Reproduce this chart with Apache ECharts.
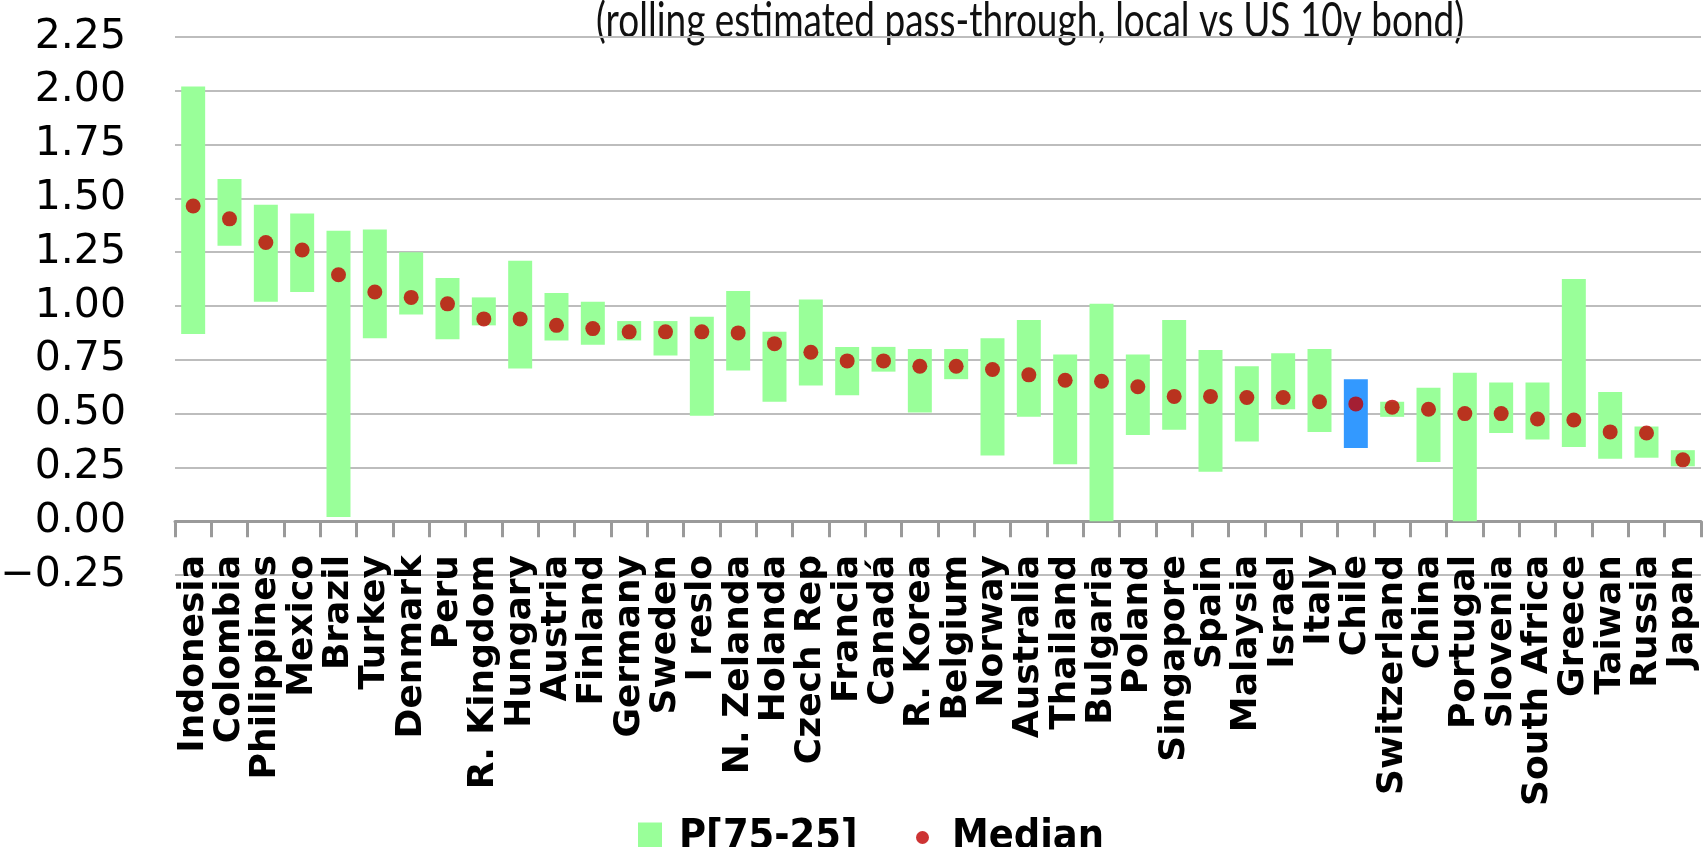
<!DOCTYPE html>
<html>
<head>
<meta charset="utf-8">
<script src="https://cdn.jsdelivr.net/npm/echarts@6/dist/echarts.min.js"></script>
<style>
  html, body { margin: 0; padding: 0; background: #fff; }
  #chart { width: 1704px; height: 847px; }
</style>
</head>
<body>
<div id="chart"></div>
<script>
// Countries, ordered by median pass-through
const countries = ['Indonesia','Colombia','Philippines','Mexico','Brazil','Turkey','Denmark','Peru','R. Kingdom','Hungary',
  'Austria','Finland','Germany','Sweden','I reslo','N. Zelanda','Holanda','Czech Rep','Francia','Canadá',
  'R. Korea','Belgium','Norway','Australia','Thailand','Bulgaria','Poland','Singapore','Spain','Malaysia',
  'Israel','Italy','Chile','Switzerland','China','Portugal','Slovenia','South Africa','Greece','Taiwan',
  'Russia','Japan'];

// 75th percentile of the rolling estimate
const p75 = [2.02,1.59,1.47,1.43,1.35,1.355,1.25,1.13,1.04,1.21,
  1.06,1.02,0.93,0.93,0.95,1.07,0.88,1.03,0.81,0.81,
  0.80,0.80,0.85,0.935,0.775,1.01,0.775,0.935,0.795,0.72,
  0.78,0.80,0.66,0.555,0.62,0.69,0.645,0.645,1.125,0.60,
  0.44,0.33];

// 25th percentile of the rolling estimate
const p25 = [0.87,1.28,1.02,1.065,0.02,0.85,0.96,0.845,0.91,0.71,
  0.84,0.82,0.84,0.77,0.49,0.70,0.555,0.63,0.585,0.695,
  0.505,0.66,0.305,0.485,0.265,0.0,0.40,0.425,0.23,0.37,
  0.52,0.415,0.34,0.485,0.275,0.0,0.41,0.38,0.345,0.29,
  0.295,0.255];

// Median of the rolling estimate
const median = [1.465,1.405,1.295,1.26,1.145,1.065,1.04,1.01,0.94,0.94,
  0.91,0.895,0.88,0.88,0.88,0.875,0.825,0.785,0.745,0.745,
  0.72,0.72,0.705,0.68,0.655,0.65,0.625,0.58,0.58,0.575,
  0.575,0.555,0.545,0.53,0.52,0.50,0.50,0.475,0.47,0.415,
  0.41,0.285];

const subtitle = '(rolling estimated pass-through, local vs US 10y bond)';
const highlighted = 'Chile';
const yTicks = { min: -0.25, max: 2.25, step: 0.25 };

const GREEN = '#99ff99';
const BLUE = '#3399ff';
const RED = '#c00000';

// Floating bars: an invisible base up to P25, then the P25–P75 span on top
const baseData = p25.slice();
const spanData = p75.map((hi, i) => ({
  value: +(hi - p25[i]).toFixed(4),
  itemStyle: { color: countries[i] === highlighted ? BLUE : GREEN }
}));

const chart = echarts.init(document.getElementById('chart'), null, { renderer: 'canvas' });

const legendText = { fontFamily: 'DejaVu Sans Condensed', fontWeight: 'bold', fontSize: 41, color: '#000' };

chart.setOption({
  animation: false,
  backgroundColor: '#ffffff',
  graphic: [
    {
      // narrow, tall subtitle line running off the top edge
      type: 'text',
      x: 596, y: 46,
      scaleX: 0.77, scaleY: 1,
      style: {
        text: subtitle,
        fontFamily: 'Lato', fontSize: 48, fontWeight: 'normal',
        fill: '#111', verticalAlign: 'bottom', align: 'left'
      },
      silent: true
    }
  ],
  legend: [
    {
      data: ['P[75-25]'],
      left: 633, top: 812,
      icon: 'rect', itemWidth: 24, itemHeight: 30,
      textStyle: Object.assign({ padding: [0, 0, 0, 12] }, legendText),
      selectedMode: false
    },
    {
      data: ['Median'],
      left: 911, top: 812,
      icon: 'circle', itemWidth: 13, itemHeight: 13,
      textStyle: Object.assign({ padding: [0, 0, 0, 18] }, legendText),
      selectedMode: false
    }
  ],
  grid: { left: 175, right: 3, top: 37, bottom: 272, containLabel: false, outerBoundsMode: 'none' },
  xAxis: {
    type: 'category',
    data: countries,
    boundaryGap: true,
    axisLine: { onZero: true, lineStyle: { color: '#9a9a9a', width: 3 } },
    axisTick: { show: true, length: 16, lineStyle: { color: '#9a9a9a', width: 3 } },
    axisLabel: {
      interval: 0, rotate: 90, margin: -20,
      fontFamily: 'DejaVu Sans', fontWeight: 'bold', fontSize: 36, color: '#000'
    },
    splitLine: { show: false }
  },
  yAxis: {
    type: 'value',
    min: yTicks.min, max: yTicks.max, interval: yTicks.step,
    axisLine: { show: false },
    axisTick: { show: false },
    axisLabel: {
      margin: 49,
      padding: [0, 0, 10, 0],
      fontFamily: 'DejaVu Sans', fontWeight: 'normal', fontSize: 41, color: '#000',
      formatter: v => (v < 0 ? '\u2212' + Math.abs(v).toFixed(2) : v.toFixed(2))
    },
    splitLine: { lineStyle: { color: '#bdbdbd', width: 2 } }
  },
  series: [
    {
      name: 'base', type: 'bar', stack: 'range', data: baseData,
      barWidth: '66%', itemStyle: { color: 'rgba(0,0,0,0)' },
      silent: true, legendHoverLink: false
    },
    {
      name: 'P[75-25]', type: 'bar', stack: 'range', data: spanData,
      barWidth: '66%', itemStyle: { color: GREEN }
    },
    {
      name: 'Median', type: 'scatter', data: median,
      symbol: 'circle', symbolSize: 15, itemStyle: { color: RED }, z: 5
    }
  ]
});
</script>
</body>
</html>
